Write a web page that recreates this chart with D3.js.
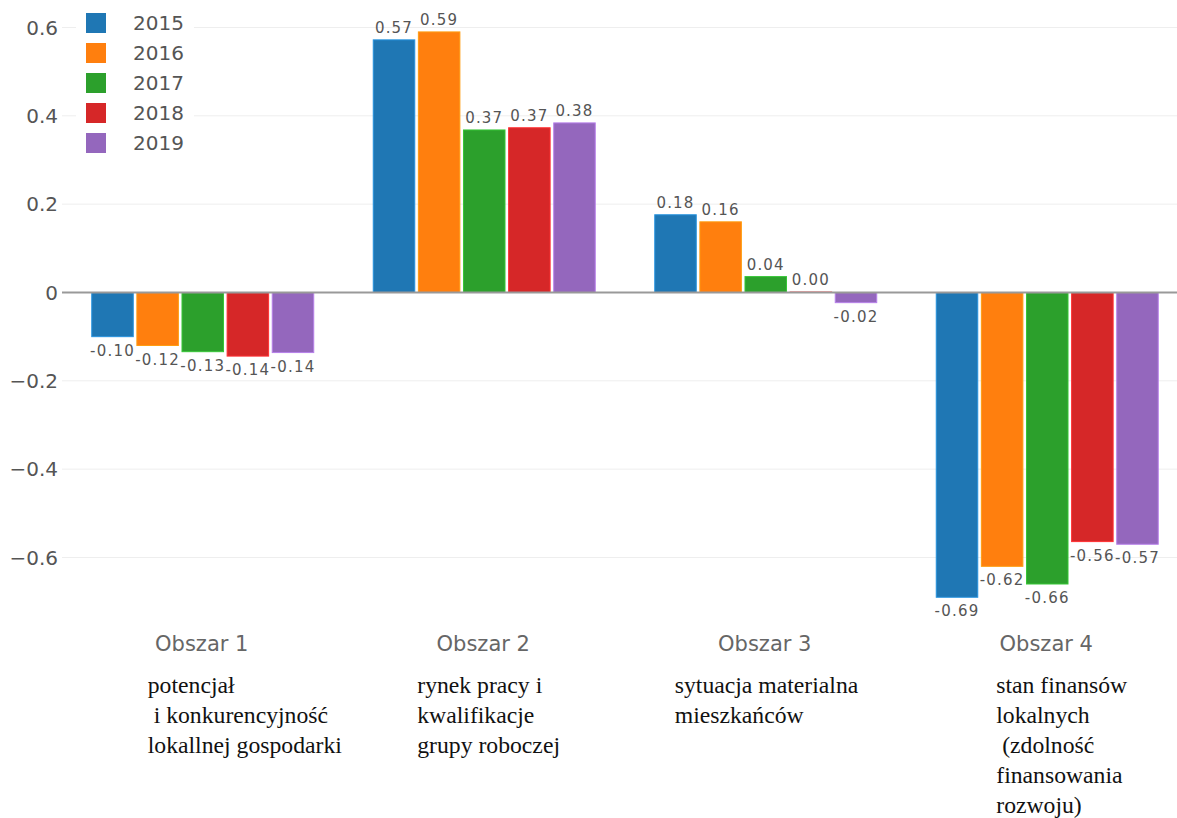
<!DOCTYPE html>
<html><head><meta charset="utf-8">
<script src="https://cdn.jsdelivr.net/npm/d3@7"></script>
<style>body{margin:0;background:#fff}svg{display:block}</style>
</head><body><svg id="c" width="1177" height="818"></svg>
<script>
const categories = ["Obszar 1","Obszar 2","Obszar 3","Obszar 4"];
const years = ["2015","2016","2017","2018","2019"];
const v2015 = [-0.10, 0.572, 0.176, -0.69];
const v2016 = [-0.12, 0.59, 0.16, -0.62];
const v2017 = [-0.134, 0.368, 0.036, -0.66];
const v2018 = [-0.144, 0.373, 0.001, -0.564];
const v2019 = [-0.136, 0.384, -0.023, -0.57];
const series = [v2015, v2016, v2017, v2018, v2019];
const colors = ["#1f77b4","#ff7f0e","#2ca02c","#d62728","#9467bd"];
const yTicks = [-0.6,-0.4,-0.2,0,0.2,0.4,0.6];
const descriptions = [
  ["potencjał"," i konkurencyjność","lokallnej gospodarki"],
  ["rynek pracy i","kwalifikacje","grupy roboczej"],
  ["sytuacja materialna","mieszkańców"],
  ["stan finansów","lokalnych"," (zdolność","finansowania","rozwoju)"]
];
const descOffsets = [-55, -67, -91, -51];

const svg = d3.select("#c");
const y = d3.scaleLinear().domain([-0.6,0.6]).range([557.5,27.5]);
const x0 = d3.scaleBand().domain(categories).range([62,1188]).paddingInner(0.2114).paddingOuter(0.1057);
const x1 = d3.scaleBand().domain(years).range([0,x0.bandwidth()]).paddingInner(0.08);
const sans = "DejaVu Sans, Verdana, sans-serif";

// grid
svg.append("g").selectAll("line").data(yTicks.filter(t=>t!==0)).join("line")
  .attr("x1",62).attr("x2",1177).attr("y1",d=>y(d)).attr("y2",d=>y(d))
  .attr("stroke","#eee").attr("stroke-width",1);

// y tick labels
svg.append("g").selectAll("text").data(yTicks).join("text")
  .attr("x",58).attr("y",d=>y(d)).attr("dy","0.36em").attr("text-anchor","end")
  .attr("font-family",sans).attr("font-size",20).attr("fill","#555")
  .text(d=> d===0 ? "0" : d3.format(".1f")(d).replace("-","−"));

// bars
const rows = [];
categories.forEach((c,i)=>years.forEach((yr,j)=>rows.push({c,yr,j,v:series[j][i]})));
svg.append("g").selectAll("rect").data(rows).join("rect")
  .attr("x",d=>x0(d.c)+x1(d.yr)).attr("width",x1.bandwidth())
  .attr("y",d=>y(Math.max(0,d.v))).attr("height",d=>Math.abs(y(d.v)-y(0)))
  .attr("fill",d=>colors[d.j]).attr("stroke",d=>d3.color(colors[d.j]).brighter(0.6)).attr("stroke-width",1);

// zero line
svg.append("line").attr("x1",62).attr("x2",1177).attr("y1",y(0)).attr("y2",y(0))
  .attr("stroke","#999").attr("stroke-width",2);

// value labels
svg.append("g").selectAll("text").data(rows).join("text")
  .attr("x",d=>x0(d.c)+x1(d.yr)+x1.bandwidth()/2)
  .attr("y",d=>d.v>=0 ? y(d.v)-7 : y(d.v)+19)
  .attr("text-anchor","middle")
  .attr("font-family",sans).attr("font-size",15).attr("letter-spacing",1.2)
  .attr("fill","#555")
  .text(d=>d.v.toFixed(2));

// category labels
svg.append("g").selectAll("text").data(categories).join("text")
  .attr("x",d=>x0(d)+x0.bandwidth()/2-1).attr("y",651).attr("text-anchor","middle")
  .attr("font-family",sans).attr("font-size",21).attr("fill","#666")
  .text(d=>d);

// descriptions
categories.forEach((c,i)=>{
  const t = svg.append("text").attr("font-family","Liberation Serif, Times New Roman, serif")
    .attr("font-size",23.7).attr("fill","#111").attr("xml:space","preserve");
  descriptions[i].forEach((line,k)=>{
    t.append("tspan").attr("x",x0(c)+x0.bandwidth()/2+descOffsets[i]).attr("y",693+k*30)
      .style("white-space","pre").text(line);
  });
});

// legend
const lg = svg.append("g");
lg.append("rect").attr("x",76).attr("y",4).attr("width",118).attr("height",156).attr("fill","#fff");
years.forEach((yr,j)=>{
  lg.append("rect").attr("x",86).attr("y",13+j*30).attr("width",20).attr("height",20).attr("fill",colors[j]);
  lg.append("text").attr("x",133).attr("y",23+j*30).attr("dy","0.36em")
    .attr("font-family",sans).attr("font-size",20).attr("fill","#555").text(yr);
});
</script></body></html>
